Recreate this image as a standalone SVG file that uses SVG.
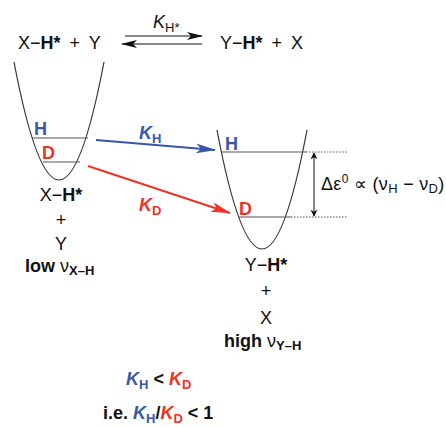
<svg xmlns="http://www.w3.org/2000/svg" width="446" height="427" viewBox="0 0 446 427">
<style>
text{font-family:"Liberation Sans",Arial,sans-serif;font-size:18px;fill:#111}
.b{font-weight:bold}
.i{font-style:italic}
.sub{font-size:13px}
.blue{fill:#3a57a7}
.red{fill:#ee3224}
.well{fill:none;stroke:#333;stroke-width:1.2}
.lvl{stroke:#555;stroke-width:1.2}
.dot{stroke:#555;stroke-width:1;stroke-dasharray:1.5 1.5}
</style>
<defs>
<marker id="ah" viewBox="0 0 16 8" refX="15" refY="4" markerWidth="16" markerHeight="8" markerUnits="userSpaceOnUse" orient="auto">
<path d="M0,0 L16,4 L0,8 L4,4 Z" fill="#111"/>
</marker>
<marker id="ahs" viewBox="0 0 10 10" refX="9" refY="5" markerWidth="7" markerHeight="9" markerUnits="userSpaceOnUse" orient="auto-start-reverse">
<path d="M0,0 L10,5 L0,10 L3,5 Z" fill="#111"/>
</marker>
<marker id="ab" viewBox="0 0 20 10" refX="19" refY="5" markerWidth="20" markerHeight="10" markerUnits="userSpaceOnUse" orient="auto">
<path d="M0,0 L20,5 L0,10 L5,5 Z" fill="#3a57a7"/>
</marker>
<marker id="ar" viewBox="0 0 20 10" refX="19" refY="5" markerWidth="20" markerHeight="10" markerUnits="userSpaceOnUse" orient="auto">
<path d="M0,0 L20,5 L0,10 L5,5 Z" fill="#ee3224"/>
</marker>
</defs>

<g id="equation">
<text x="18" y="49" word-spacing="4">X−<tspan class="b">H*</tspan> + Y</text>
<text x="153" y="28" class="i">K</text><text x="165" y="32" class="sub">H*</text>
<text x="220" y="49" word-spacing="4">Y−<tspan class="b">H*</tspan> + X</text>
</g>

<g id="left-well">
<path class="well" d="M14,62 Q59,298 104,62"/>
<line class="lvl" x1="32" y1="138" x2="88" y2="138"/>
<line class="lvl" x1="43" y1="162" x2="80" y2="162"/>
<text x="34" y="135" class="b blue">H</text>
<text x="42" y="159" class="b red">D</text>
<text x="61" y="201" text-anchor="middle">X−<tspan class="b">H*</tspan></text>
<text x="61" y="226" text-anchor="middle">+</text>
<text x="61" y="250" text-anchor="middle">Y</text>
<text x="25" y="272" class="b">low <tspan font-weight="normal">ν</tspan><tspan class="sub" dy="3">X–H</tspan></text>
</g>

<g id="right-well">
<path class="well" d="M217,130 Q262,368 307,130"/>
<line class="lvl" x1="221" y1="152" x2="306" y2="152"/>
<line class="lvl" x1="238" y1="217" x2="291" y2="217"/>
<text x="225" y="150" class="b blue">H</text>
<text x="239" y="215" class="b red">D</text>
<text x="266" y="271" text-anchor="middle">Y−<tspan class="b">H*</tspan></text>
<text x="266" y="297" text-anchor="middle">+</text>
<text x="266" y="324" text-anchor="middle">X</text>
<text x="224" y="347" class="b">high <tspan font-weight="normal">ν</tspan><tspan class="sub" dy="3">Y–H</tspan></text>
</g>

<g id="delta-label">
<text x="321" y="190" letter-spacing="0.3">Δε<tspan font-size="12" dy="-7">0</tspan><tspan dy="7"> ∝ (ν</tspan><tspan class="sub" dy="3">H</tspan><tspan dy="-3"> − ν</tspan><tspan class="sub" dy="3">D</tspan><tspan dy="-3">)</tspan></text>
</g>

<g id="rate-labels">
<text x="139" y="139" class="b i blue">K</text><text x="152" y="143" class="b sub blue">H</text>
<text x="139" y="211" class="b i red">K</text><text x="152" y="215" class="b sub red">D</text>
</g>

<g id="summary">
<text x="126" y="385" class="b"><tspan class="i blue">K</tspan><tspan class="sub blue" dy="4">H</tspan><tspan dy="-4"> &lt; </tspan><tspan class="i red">K</tspan><tspan class="sub red" dy="4">D</tspan></text>
<text x="103" y="419" class="b">i.e. <tspan class="i blue">K</tspan><tspan class="sub blue" dy="4">H</tspan><tspan dy="-4">/</tspan><tspan class="i red">K</tspan><tspan class="sub red" dy="4">D</tspan><tspan dy="-4"> &lt; 1</tspan></text>
</g>

<g id="connectors">
<line x1="125" y1="36" x2="202" y2="36" stroke="#111" stroke-width="1" marker-end="url(#ah)"/>
<line x1="202" y1="44" x2="122" y2="44" stroke="#111" stroke-width="1" marker-end="url(#ah)"/>
<line x1="96" y1="140" x2="215" y2="150" stroke="#3a57a7" stroke-width="2" marker-end="url(#ab)"/>
<line x1="88" y1="166" x2="230" y2="213" stroke="#ee3224" stroke-width="2" marker-end="url(#ar)"/>
<line class="dot" x1="306" y1="152" x2="347" y2="152"/>
<line class="dot" x1="291" y1="217" x2="347" y2="217"/>
<line x1="314" y1="153" x2="314" y2="216" stroke="#111" stroke-width="1" marker-start="url(#ahs)" marker-end="url(#ahs)"/>
</g>
</svg>
